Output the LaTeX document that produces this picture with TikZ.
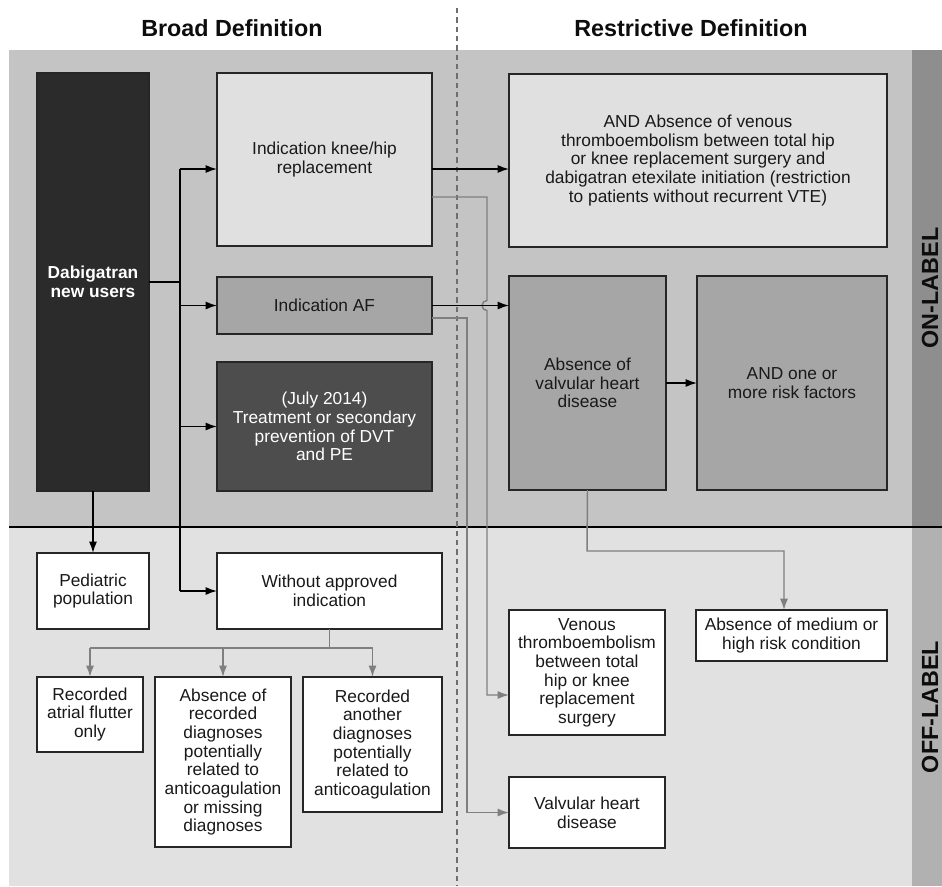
\documentclass[tikz,border=0pt]{standalone}
\usepackage{fontspec}
\setmainfont{Liberation Sans}
\usepackage{xcolor}
\usepackage{tikz}
\usetikzlibrary{arrows.meta}

\definecolor{onbg}{HTML}{C4C4C4}
\definecolor{onstrip}{HTML}{8E8E8E}
\definecolor{offbg}{HTML}{E1E1E1}
\definecolor{offstrip}{HTML}{B1B1B1}
\definecolor{dabfill}{HTML}{2B2B2B}
\definecolor{lightfill}{HTML}{E0E0E0}
\definecolor{midfill}{HTML}{A6A6A6}
\definecolor{darkfill}{HTML}{4D4D4D}
\definecolor{grayline}{HTML}{7F7F7F}
\definecolor{dashline}{HTML}{6E6E6E}

\begin{document}
\begin{tikzpicture}[x=0.75pt,y=-0.75pt,
    box/.style 2 args={draw=black!85,line width=0.9pt,inner sep=0pt,outer sep=0pt,align=center,
        text=black!90,font=\fontsize{13}{14}\selectfont,minimum width=#1*0.75pt,minimum height=#2*0.75pt},
    head/.style={font=\fontsize{17.5}{20}\selectfont\bfseries,text=black!95},
    blk/.style={line width=1.1pt,black},
    arr/.style={blk,-{Latex[length=8.5pt,width=6pt]}},
    gblk/.style={line width=1.1pt,grayline},
    garr/.style={gblk,-{Latex[length=8.5pt,width=6pt]}}]

    \useasboundingbox (0,0) rectangle (942,886);

    \fill[onbg] (9,50) rectangle (912,527);
    \fill[onstrip] (912,50) rectangle (942,527);
    \fill[offbg] (9,527) rectangle (912,886);
    \fill[offstrip] (912,527) rectangle (942,886);
    \draw[line width=2.2pt,black] (9,527) -- (942,527);
    \draw[dashline,line width=0.9pt,dash pattern=on 4pt off 3pt] (457,8) -- (457,886);

    \node [head] (BD) at (232,28) {Broad Definition};
    \node [head] (RD) at (691,28) {Restrictive Definition};
    \node [head,rotate=90,anchor=base] (ON) at (938,288) {ON-LABEL};
    \node [head,rotate=90,anchor=base] (OFF) at (938,707) {OFF-LABEL};

    \node [box={112}{418},fill=dabfill,text=white,font=\fontsize{13}{14}\selectfont\bfseries] (Dab) at (93,282) {Dabigatran\\new users};
    \node [box={215}{173},fill=lightfill] (Knee) at (324.5,159.5) {Indication knee/hip\\replacement};
    \node [box={215}{57},fill=midfill] (AF) at (324.5,305.5) {Indication AF};
    \node [box={215}{129},fill=darkfill,text=white] (DVT) at (324.5,426.5) {(July 2014)\\Treatment or secondary\\prevention of DVT\\and PE};
    \node [box={112}{76},fill=white] (Ped) at (93,591) {Pediatric\\population};
    \node [box={225}{76},fill=white] (Without) at (329.5,591) {Without approved\\indication};
    \node [box={106}{75},fill=white] (Flutter) at (90,714.5) {Recorded\\atrial flutter\\only};
    \node [box={136}{170},fill=white] (Absrec) at (223,762) {Absence of\\recorded\\diagnoses\\potentially\\related to\\anticoagulation\\or missing\\diagnoses};
    \node [box={139}{135},fill=white] (Another) at (372.5,744.5) {Recorded\\another\\diagnoses\\potentially\\related to\\anticoagulation};

    \node [box={378}{173},fill=lightfill] (VTE) at (698,160.5) {AND Absence of venous\\thromboembolism between total hip\\or knee replacement surgery and\\dabigatran etexilate initiation (restriction\\to patients without recurrent VTE)};
    \node [box={157}{214},fill=midfill] (Valv) at (587.5,383) {Absence of\\valvular heart\\disease};
    \node [box={190}{214},fill=midfill] (Risk) at (792,383) {AND one or\\more risk factors};
    \node [box={156}{125},fill=white] (Venous) at (587,672.5) {Venous\\thromboembolism\\between total\\hip or knee\\replacement\\surgery};
    \node [box={156}{71},fill=white] (VHD) at (587,812.5) {Valvular heart\\disease};
    \node [box={191}{51},fill=white] (Medium) at (791.5,635.5) {Absence of medium or\\high risk condition};

    \coordinate (T1) at (180,169);
    \coordinate (T2) at (180,591);
    \draw[blk] (Dab.east) -- (Dab.east -| T1);
    \draw[blk] (T1) -- (T2);
    \draw[arr] (T1) -- (Knee.west |- T1);
    \draw[arr] (AF.west -| T1) -- (AF.west);
    \draw[arr] (DVT.west -| T1) -- (DVT.west);
    \draw[arr] (T2) -- (Without.west);
    \draw[arr] (Dab.south) -- (Ped.north);

    \coordinate (W) at (325,648);
    \draw[gblk] (Without.south) -- (Without.south |- W);
    \draw[gblk] (Flutter.north |- W) -- (Another.north |- W);
    \draw[garr] (Flutter.north |- W) -- (Flutter.north);
    \draw[garr] (Absrec.north |- W) -- (Absrec.north);
    \draw[garr] (Another.north |- W) -- (Another.north);

    \coordinate (G1) at (487,197);
    \coordinate (G2) at (487,695);
    \draw[garr] (Knee.east |- G1) -- (G1) -- (487,300.5) arc[start angle=270,end angle=90,radius=5] -- (G2) -- (Venous.west |- G2);
    \coordinate (G3) at (467,318);
    \draw[garr] (AF.east |- G3) -- (G3) -- (G3 |- VHD.west) -- (VHD.west);
    \coordinate (G4) at (587,551);
    \coordinate (G5) at (784,551);
    \draw[garr] (Valv.south) -- (G4) -- (G5) -- (G5 |- Medium.north);

    \draw[arr] (Knee.east |- T1) -- (VTE.west |- T1);
    \draw[arr] (AF.east) -- (Valv.west |- AF.east);
    \draw[arr] (Valv.east) -- (Risk.west);

\end{tikzpicture}
\end{document}
